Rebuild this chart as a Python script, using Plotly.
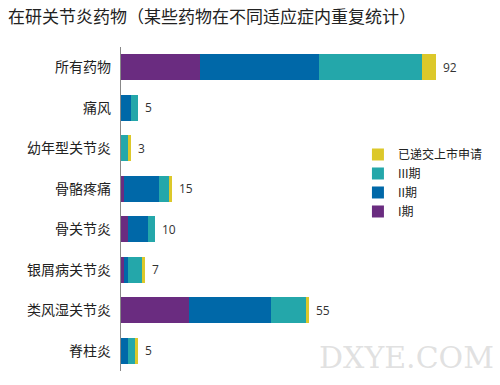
import plotly.graph_objects as go

categories = ["所有药物", "痛风", "幼年型关节炎", "骨骼疼痛", "骨关节炎", "银屑病关节炎", "类风湿关节炎", "脊柱炎"]
phase1 = [23, 0, 0, 1, 2, 1, 20, 0]
phase2 = [35, 3, 0, 10, 6, 1, 24, 2]
phase3 = [30, 2, 2, 3, 2, 4, 10, 2]
filed = [4, 0, 1, 1, 0, 1, 1, 1]
totals = [92, 5, 3, 15, 10, 7, 55, 5]

series = [
    ("I期", phase1, "#6a2c80"),
    ("II期", phase2, "#0068a8"),
    ("III期", phase3, "#24a7aa"),
    ("已递交上市申请", filed, "#dcc82a"),
]

fig = go.Figure()
for name, vals, col in series:
    fig.add_trace(go.Bar(
        y=categories, x=vals, name=name, orientation="h",
        marker=dict(color=col, line=dict(width=0)),
        hoverinfo="x+name",
    ))

for c, t in zip(categories, totals):
    fig.add_annotation(x=t, y=c, text=str(t), showarrow=False, xanchor="left",
                       xshift=5, font=dict(size=12, color="#333333", family="Open Sans"))

fig.add_annotation(xref="paper", yref="paper", x=1.045, y=-0.02, xanchor="right", yanchor="bottom",
                   text="DXYE.COM", showarrow=False,
                   font=dict(size=30, color="rgba(200,200,200,0.55)", family="DejaVu Serif"))

fig.update_layout(
    width=500, height=385,
    barmode="stack", bargap=0.36,
    paper_bgcolor="white", plot_bgcolor="white",
    margin=dict(l=121, r=18, t=47, b=14),
    title=dict(text="在研关节炎药物（某些药物在不同适应症内重复统计）",
               x=0.016, xanchor="left", y=0.955, yanchor="middle",
               font=dict(size=17, color="#222222", family="Noto Sans CJK SC")),
    xaxis=dict(range=[0, 105], visible=False, fixedrange=True),
    yaxis=dict(autorange="reversed", showline=True, linecolor="#888888", linewidth=1,
               ticks="", showgrid=False, ticksuffix="  ", automargin=False, fixedrange=True,
               tickfont=dict(size=14, color="#222222", family="Noto Sans CJK SC")),
    legend=dict(traceorder="reversed", x=0.66, y=0.713,
                xanchor="left", yanchor="top",
                font=dict(size=12, color="#222222", family="Noto Sans CJK SC"),
                itemwidth=30, tracegroupgap=0, bgcolor="rgba(0,0,0,0)"),
    showlegend=True,
)

fig.write_html("out.html", config={"displayModeBar": False},
               post_script="document.body.style.margin='0';")
